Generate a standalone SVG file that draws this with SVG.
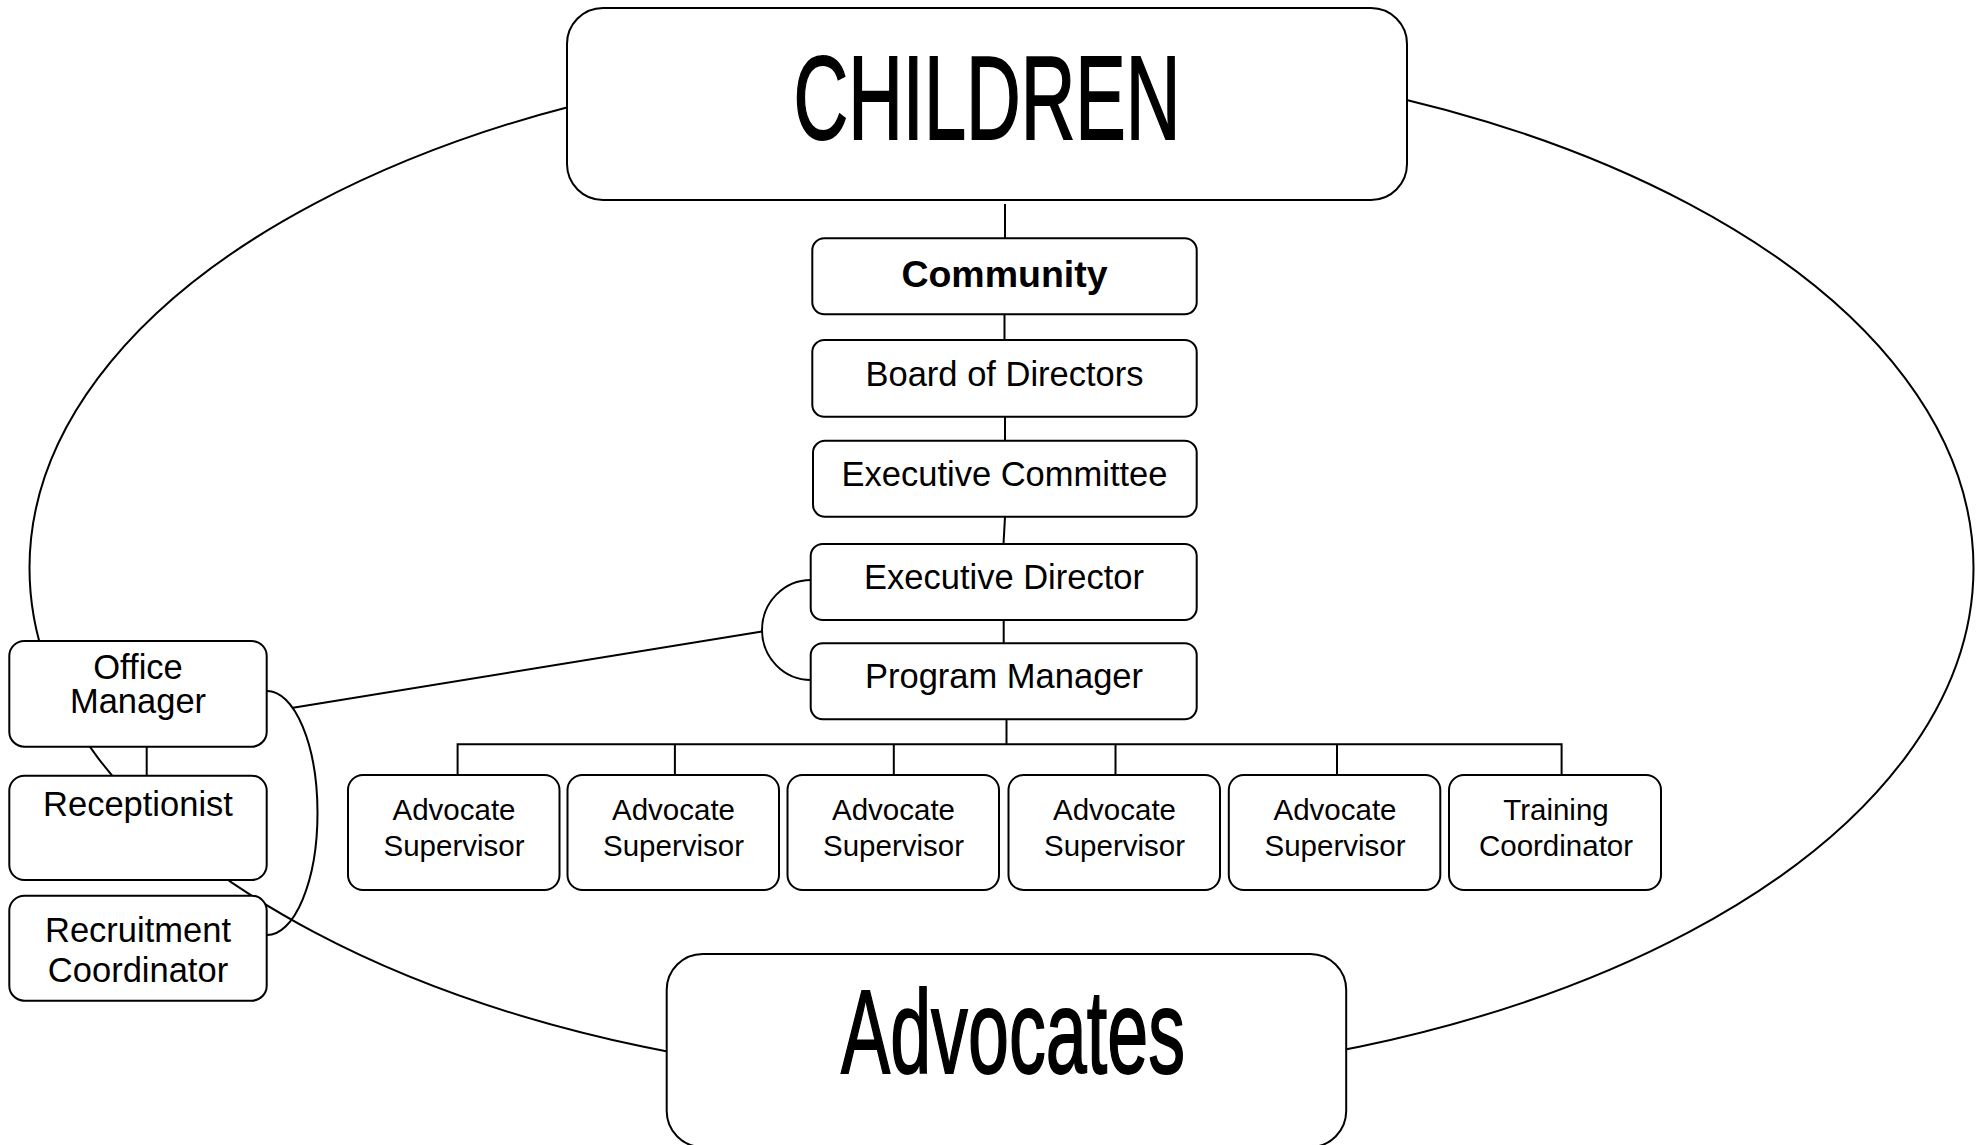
<svg xmlns="http://www.w3.org/2000/svg" width="1984" height="1145" viewBox="0 0 1984 1145">
<style>
.box{fill:#fff;stroke:#000;stroke-width:2}
.conn{fill:none;stroke:#000;stroke-width:2}
.t{font-family:"Liberation Sans",Arial,sans-serif;font-size:34.5px;text-anchor:middle;fill:#000}
.s{font-size:29.5px}
.b{font-size:37.5px;font-weight:bold}
.big{font-size:118px;stroke:#000;stroke-width:1.8}
</style>
<rect width="1984" height="1145" fill="#fff"/>
<g id="connectors">
<ellipse class="conn" cx="1001.5" cy="568" rx="972" ry="515"/>
<line class="conn" x1="1005" y1="204" x2="1005" y2="238"/>
<line class="conn" x1="1004.5" y1="314" x2="1004.5" y2="340"/>
<line class="conn" x1="1005" y1="417" x2="1005" y2="441"/>
<line class="conn" x1="1005" y1="517" x2="1003.5" y2="544"/>
<line class="conn" x1="1003.7" y1="620" x2="1003.7" y2="643"/>
<path class="conn" d="M811 580 A49 50 0 0 0 811 680"/>
<line class="conn" x1="762" y1="631.5" x2="293" y2="707.7"/>
<path class="conn" d="M267 691 A50.5 122 0 0 1 267 935"/>
<line class="conn" x1="146.7" y1="746.7" x2="146.7" y2="775.7"/>
<line class="conn" x1="1006.5" y1="719" x2="1006.5" y2="744.3"/>
<polyline class="conn" points="457.6,775 457.6,744.3 1561.6,744.3 1561.6,775"/>
<line class="conn" x1="674.9" y1="744.3" x2="674.9" y2="775"/>
<line class="conn" x1="893.8" y1="744.3" x2="893.8" y2="775"/>
<line class="conn" x1="1115.5" y1="744.3" x2="1115.5" y2="775"/>
<line class="conn" x1="1337" y1="744.3" x2="1337" y2="775"/>
</g>
<g id="children"><rect class="box" x="567" y="8" width="840" height="192" rx="36"/><text class="t big" x="987" y="139" textLength="387" lengthAdjust="spacingAndGlyphs">CHILDREN</text></g>
<g id="community"><rect class="box" x="812.3" y="238.3" width="384.4" height="76" rx="12"/><text class="t b" x="1004.5" y="286.7">Community</text></g>
<g id="board"><rect class="box" x="812.3" y="340" width="384.4" height="76.7" rx="12"/><text class="t" x="1004.5" y="385.7">Board of Directors</text></g>
<g id="exec-committee"><rect class="box" x="813" y="440.7" width="383.7" height="76" rx="12"/><text class="t" x="1004.5" y="485.7">Executive Committee</text></g>
<g id="exec-director"><rect class="box" x="810.7" y="544" width="386" height="76" rx="12"/><text class="t" x="1004" y="589.3">Executive Director</text></g>
<g id="program-manager"><rect class="box" x="810.7" y="643.3" width="386" height="76" rx="12"/><text class="t" x="1004" y="688.3">Program Manager</text></g>
<g id="office-manager"><rect class="box" x="9.3" y="641" width="257.4" height="105.7" rx="15"/><text class="t" x="138" y="679">Office</text><text class="t" x="138" y="712.5">Manager</text></g>
<g id="receptionist"><rect class="box" x="9.3" y="775.7" width="257.4" height="104.3" rx="15"/><text class="t" x="138" y="815.5">Receptionist</text></g>
<g id="recruitment"><rect class="box" x="9.3" y="895.7" width="257.4" height="105" rx="15"/><text class="t" x="138" y="941.7">Recruitment</text><text class="t" x="138" y="981.5">Coordinator</text></g>
<g id="adv-sup-1"><rect class="box" x="348" y="775" width="211.5" height="115" rx="15"/><text class="t s" x="454" y="820">Advocate</text><text class="t s" x="454" y="856">Supervisor</text></g>
<g id="adv-sup-2"><rect class="box" x="567.5" y="775" width="211.5" height="115" rx="15"/><text class="t s" x="673.5" y="820">Advocate</text><text class="t s" x="673.5" y="856">Supervisor</text></g>
<g id="adv-sup-3"><rect class="box" x="787.5" y="775" width="211.5" height="115" rx="15"/><text class="t s" x="893.5" y="820">Advocate</text><text class="t s" x="893.5" y="856">Supervisor</text></g>
<g id="adv-sup-4"><rect class="box" x="1008.5" y="775" width="211.5" height="115" rx="15"/><text class="t s" x="1114.5" y="820">Advocate</text><text class="t s" x="1114.5" y="856">Supervisor</text></g>
<g id="adv-sup-5"><rect class="box" x="1228.8" y="775" width="211.5" height="115" rx="15"/><text class="t s" x="1335" y="820">Advocate</text><text class="t s" x="1335" y="856">Supervisor</text></g>
<g id="training"><rect class="box" x="1449" y="775" width="212" height="115" rx="15"/><text class="t s" x="1556" y="820">Training</text><text class="t s" x="1556" y="856">Coordinator</text></g>
<g id="advocates"><rect class="box" x="666.7" y="954" width="679.5" height="193" rx="36"/><text class="t big" x="1013" y="1073" textLength="344" lengthAdjust="spacingAndGlyphs">Advocates</text></g>
</svg>
